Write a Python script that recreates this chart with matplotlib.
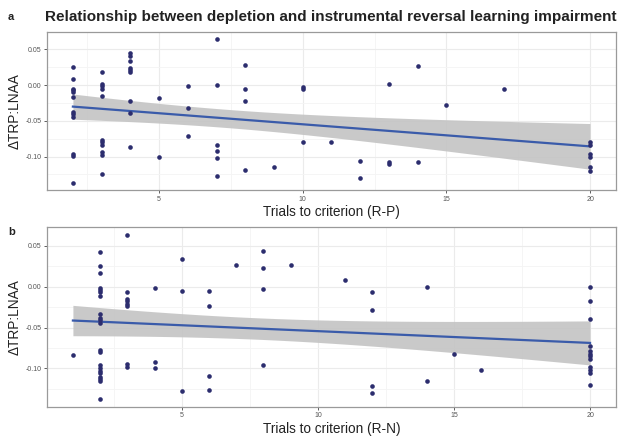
import numpy as np
import matplotlib
matplotlib.use("Agg")
import matplotlib.pyplot as plt

plt.rcParams['font.family'] = ['Liberation Sans', 'DejaVu Sans']

title = "Relationship between depletion and instrumental reversal learning impairment"
ylabel = "\u0394TRP:LNAA"
xlabel_a = "Trials to criterion (R-P)"
xlabel_b = "Trials to criterion (R-N)"

# Panel a data (trials, delta)
a_x = [2]*12 + [3]*11 + [4]*9 + [5]*2 + [6]*3 + [7]*6 + [8]*4 + [9] + [10]*3 + [11] + [12]*2 + [13]*3 + [14]*2 + [15] + [17] + [20]*6
a_y = [0.026, 0.008, -0.005, -0.007, -0.010, -0.017, -0.038, -0.041, -0.045, -0.096, -0.099, -0.137,
       0.018, 0.002, -0.001, -0.005, -0.015, -0.077, -0.080, -0.084, -0.094, -0.098, -0.125,
       0.045, 0.041, 0.034, 0.024, 0.021, 0.018, -0.022, -0.039, -0.087,
       -0.018, -0.100,
       -0.001, -0.032, -0.071,
       0.064, 0.000, -0.084, -0.092, -0.102, -0.127,
       0.028, -0.006, -0.022, -0.119,
       -0.115,
       -0.003, -0.005, -0.080,
       -0.079,
       -0.106, -0.130,
       0.001, -0.108, -0.111,
       0.027, -0.107,
       -0.028,
       -0.006,
       -0.080, -0.084, -0.096, -0.101, -0.114, -0.120]

# Panel b data
b_x = [1] + [2]*21 + [3]*8 + [4]*3 + [5]*3 + [6]*4 + [7] + [8]*4 + [9] + [11] + [12]*4 + [14]*2 + [15] + [16] + [20]*12
b_y = [-0.083,
       0.042, 0.025, 0.017, -0.001, -0.004, -0.007, -0.011, -0.033, -0.038, -0.041, -0.044,
       -0.078, -0.080, -0.096, -0.100, -0.103, -0.106, -0.110, -0.113, -0.116, -0.137,
       0.063, -0.007, -0.015, -0.018, -0.021, -0.023, -0.094, -0.098,
       -0.002, -0.092, -0.099,
       0.034, -0.005, -0.128,
       -0.005, -0.023, -0.109, -0.127,
       0.027,
       0.044, 0.023, -0.003, -0.096,
       0.027,
       0.008,
       -0.006, -0.029, -0.121, -0.130,
       0.000, -0.115,
       -0.082,
       -0.102,
       0.000, -0.018, -0.040, -0.072, -0.079, -0.082, -0.085, -0.088, -0.098, -0.102, -0.106, -0.120]

POINT = '#2C2D6E'
LINE = '#3A5BAA'
FILL = '#C4C4C4'
GRID = '#EBEBEB'


def lm_band(x, y, xs):
    x = np.asarray(x, float); y = np.asarray(y, float)
    n = len(x)
    b1, b0 = np.polyfit(x, y, 1)
    resid = y - (b0 + b1 * x)
    s = np.sqrt(np.sum(resid**2) / (n - 2))
    sxx = np.sum((x - x.mean())**2)
    fit = b0 + b1 * xs
    se = s * np.sqrt(1.0 / n + (xs - x.mean())**2 / sxx)
    t = 1.99  # approx t(0.975, df~70)
    return fit, fit - t * se, fit + t * se


def panel(ax, x, y, xlabel):
    x = np.asarray(x, float); y = np.asarray(y, float)
    ax.set_facecolor('white')
    xs = np.linspace(x.min(), x.max(), 100)
    fit, lo, hi = lm_band(x, y, xs)
    ax.fill_between(xs, lo, hi, color=FILL, alpha=0.9, lw=0, zorder=2)
    ax.plot(xs, fit, color=LINE, lw=1.6, zorder=3)
    ax.scatter(x, y, s=11, color=POINT, zorder=4, lw=0)
    xr = x.max() - x.min(); yr = y.max() - y.min()
    ax.set_xlim(x.min() - 0.05 * xr, x.max() + 0.05 * xr)
    ax.set_ylim(y.min() - 0.05 * yr, y.max() + 0.05 * yr)
    ax.set_xticks([5, 10, 15, 20])
    ax.set_xticks([2.5, 7.5, 12.5, 17.5], minor=True)
    ax.set_yticks([0.05, 0.0, -0.05, -0.10])
    ax.set_yticklabels(['0.05', '0.00', '-0.05', '-0.10'])
    ax.set_yticks([0.025, -0.025, -0.075, -0.125], minor=True)
    ax.grid(True, which='major', color=GRID, lw=0.8, zorder=0)
    ax.grid(True, which='minor', color='#F4F4F4', lw=0.6, zorder=0)
    ax.set_axisbelow(True)
    ax.tick_params(which='major', length=2.5, width=0.6, color='#444444',
                   labelsize=5, labelcolor='#555555', pad=1.5)
    ax.tick_params(which='minor', length=0)
    for sp in ax.spines.values():
        sp.set_color('#9A9A9A'); sp.set_linewidth(0.9)
    ax.set_xlabel(xlabel, fontsize=9.8, color='#222222', labelpad=2)
    ax.set_ylabel(ylabel, fontsize=9.8, color='#222222', labelpad=3)


fig = plt.figure(figsize=(6.19, 4.36), dpi=100)
fig.patch.set_facecolor('white')
ax1 = fig.add_axes([0.076, 0.564, 0.919, 0.362])
ax2 = fig.add_axes([0.076, 0.067, 0.919, 0.412])
panel(ax1, a_x, a_y, xlabel_a)
panel(ax2, b_x, b_y, xlabel_b)

fig.text(0.013, 0.955, 'a', fontsize=8, fontweight='bold', color='#222222')
fig.text(0.013, 0.462, 'b', fontsize=8, fontweight='bold', color='#222222')
fig.text(0.535, 0.952, title, fontsize=11, fontweight='bold', ha='center', color='#222222')

fig.savefig('out.png', dpi=100)
